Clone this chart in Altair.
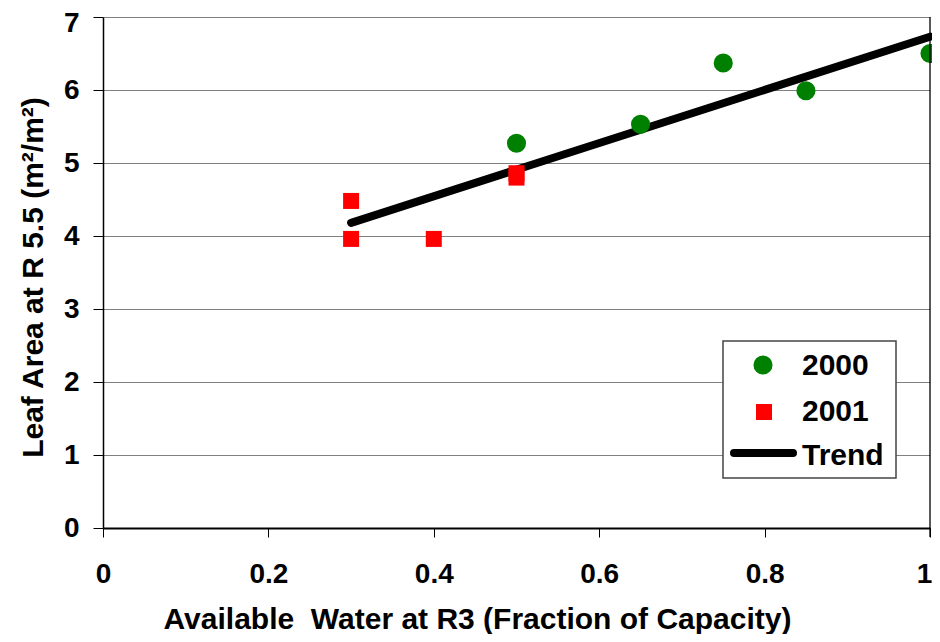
import altair as alt
import pandas as pd

FONT = "Liberation Sans"

# ---- data ----
x_2000 = [0.5, 0.65, 0.75, 0.85, 1.0]
y_2000 = [5.27, 5.53, 6.37, 5.99, 6.50]
x_2001 = [0.3, 0.3, 0.4, 0.5, 0.5]
y_2001 = [4.48, 3.96, 3.96, 4.86, 4.80]
trend_x = [0.3, 1.0]
trend_y = [4.18, 6.73]
x_ticks = [0, 0.2, 0.4, 0.6, 0.8, 1.0]
y_ticks = [0, 1, 2, 3, 4, 5, 6, 7]
legend_labels = ["2000", "2001", "Trend"]
x_title = "Available\u00a0 Water at R3 (Fraction of Capacity)"
y_title = "Leaf Area at R 5.5 (m\u00b2/m\u00b2)"

df2000 = pd.DataFrame({"x": x_2000, "y": y_2000})
df2001 = pd.DataFrame({"x": x_2001, "y": y_2001})
dftrend = pd.DataFrame({"x": trend_x, "y": trend_y})
one = pd.DataFrame({"k": [0]})

x_enc = alt.X(
    "x:Q",
    scale=alt.Scale(domain=[0, 1], nice=False),
    axis=alt.Axis(
        values=x_ticks, format="~g", grid=False, tickSize=9, tickColor="black",
        labelPadding=23, labelFontSize=28, labelFont=FONT, labelFontWeight="bold",
        labelColor="black", labelFlush=False, labelOverlap=False, labelBound=False,
        labelOffset={"condition": {"test": "datum.value == 1", "value": -6}, "value": 0},
        domainColor="black", domainWidth=2,
        title=x_title, titleFont=FONT, titleFontSize=30, titleFontWeight="bold",
        titleColor="black", titleX=374, titleY=100, titleBaseline="alphabetic",
        titleAnchor="middle", titleAlign="center",
    ),
)
y_enc = alt.Y(
    "y:Q",
    scale=alt.Scale(domain=[0, 7], nice=False),
    axis=alt.Axis(
        values=y_ticks, format="d", grid=True, gridColor="#808080", gridWidth=1,
        tickSize=10, tickColor="black",
        labelPadding=14, labelFontSize=28, labelFont=FONT, labelFontWeight="bold",
        labelColor="black", labelFlush=False, labelOverlap=False, labelBound=False,
        labelOffset={"condition": {"test": "datum.value == 7", "value": 6}, "value": 0},
        domainColor="black", domainWidth=1.5,
        title=y_title, titleFont=FONT, titleFontSize=30, titleFontWeight="bold",
        titleColor="black", titleX=-61, titleY=260, titleAngle=270,
        titleBaseline="alphabetic", titleAlign="center",
    ),
)

trend = alt.Chart(dftrend).mark_line(
    color="black", strokeWidth=8, strokeCap="round"
).encode(x=x_enc, y=y_enc)

pts2000 = alt.Chart(df2000).mark_point(
    shape="circle", filled=True, color="#008000", size=366, opacity=1, strokeWidth=0
).encode(x="x:Q", y="y:Q")

pts2001 = alt.Chart(df2001).mark_point(
    shape="square", filled=True, color="#FF0000", size=256, opacity=1, strokeWidth=0
).encode(x="x:Q", y="y:Q")

right_border = alt.Chart(one).mark_rule(color="black", strokeWidth=1.3).encode(
    x=alt.value(827), y=alt.value(0), y2=alt.value(520)
)

# ---- legend (drawn manually) ----
leg_box = alt.Chart(one).mark_rect(
    fill="white", stroke="#444444", strokeWidth=1.5
).encode(x=alt.value(620), x2=alt.value(793), y=alt.value(324), y2=alt.value(461))

leg_circle = alt.Chart(one).mark_point(
    shape="circle", filled=True, color="#008000", size=366, opacity=1, strokeWidth=0
).encode(x=alt.value(660), y=alt.value(348))

leg_square = alt.Chart(one).mark_point(
    shape="square", filled=True, color="#FF0000", size=256, opacity=1, strokeWidth=0
).encode(x=alt.value(661), y=alt.value(395))

leg_line = alt.Chart(one).mark_rule(
    color="black", strokeWidth=8, strokeCap="round"
).encode(x=alt.value(631), x2=alt.value(690), y=alt.value(436))

def leg_text(label, ybase):
    return alt.Chart(one).mark_text(
        align="left", baseline="alphabetic", font=FONT, fontSize=30,
        fontWeight="bold", color="black"
    ).encode(x=alt.value(699), y=alt.value(ybase), text=alt.value(label))

chart = alt.layer(
    trend, pts2000, pts2001, right_border,
    leg_box, leg_circle, leg_square, leg_line,
    leg_text(legend_labels[0], 358),
    leg_text(legend_labels[1], 404),
    leg_text(legend_labels[2], 448),
).properties(
    width=827, height=511,
    autosize=alt.AutoSizeParams(type="none"),
    padding={"left": 95, "top": 9, "right": 2, "bottom": 106},
    background="white",
).configure_view(stroke=None)

chart.save("out.html", embed_options={"renderer": "svg", "actions": False})
